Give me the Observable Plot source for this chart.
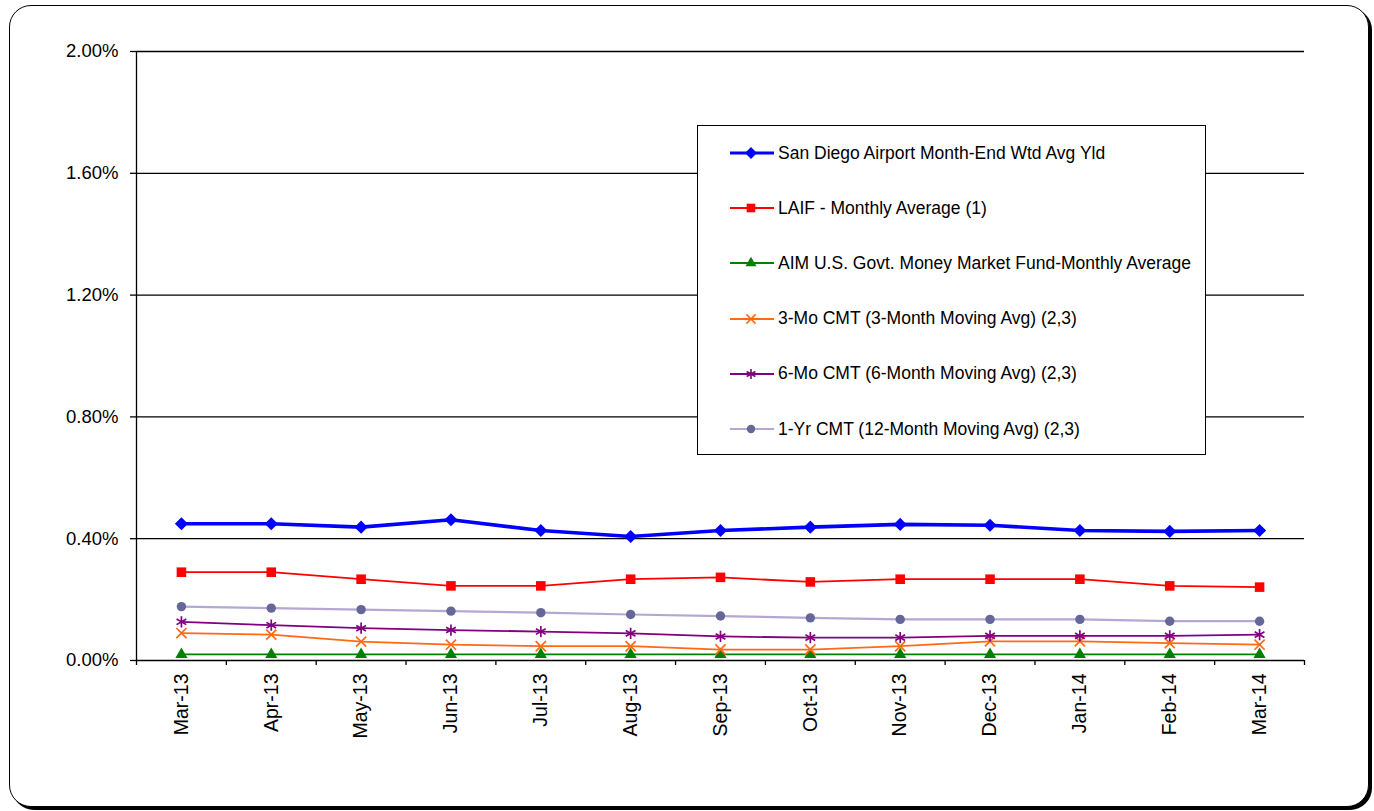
<!DOCTYPE html>
<html>
<head>
<meta charset="utf-8">
<script src="https://cdn.jsdelivr.net/npm/d3@7"></script>
<script src="https://cdn.jsdelivr.net/npm/@observablehq/plot@0.6"></script>
<style>
  body { margin: 0; background: #fff; font-family: "Liberation Sans", Arial, sans-serif; }
  #wrap { position: relative; width: 1374px; height: 811px; overflow: hidden; background: #fff; }
  #frame { position: absolute; left: 9px; top: 5px; width: 1360px; height: 802px; box-sizing: border-box;
           border: 1.5px solid #000; border-radius: 22px; box-shadow: 3px 3px 0 0 #000; background: #fff; }
  #chart { position: absolute; left: 0; top: 0; }
  #legend { position: absolute; left: 697px; top: 125px; width: 509px; height: 330px; box-sizing: border-box;
            border: 1.5px solid #000; background: #fff; }
  .item { position: absolute; left: 30px; height: 22px; display: flex; align-items: center;
          font-size: 17.5px; color: #000; white-space: nowrap; }
  .item svg { margin-right: 4px; }
</style>
</head>
<body>
<div id="wrap">
  <div id="frame"></div>
  <div id="chart"></div>
  <div id="legend"></div>
</div>
<script>
// Month-end labels, Mar-13 .. Mar-14
const months = ["Mar-13", "Apr-13", "May-13", "Jun-13", "Jul-13", "Aug-13", "Sep-13",
                "Oct-13", "Nov-13", "Dec-13", "Jan-14", "Feb-14", "Mar-14"];

// Yields in percent
const sanDiegoYield = [0.449, 0.449, 0.438, 0.462, 0.427, 0.407, 0.427, 0.438, 0.447, 0.444, 0.427, 0.424, 0.427];
const laifAvg       = [0.290, 0.290, 0.267, 0.245, 0.245, 0.267, 0.273, 0.258, 0.267, 0.267, 0.267, 0.245, 0.241];
const aimMoneyMkt   = [0.020, 0.020, 0.020, 0.020, 0.020, 0.020, 0.020, 0.020, 0.020, 0.020, 0.020, 0.020, 0.020];
const cmt3Mo        = [0.090, 0.085, 0.062, 0.052, 0.047, 0.047, 0.036, 0.036, 0.047, 0.063, 0.063, 0.057, 0.052];
const cmt6Mo        = [0.127, 0.116, 0.106, 0.100, 0.095, 0.089, 0.079, 0.075, 0.075, 0.081, 0.081, 0.081, 0.085];
const cmt1Yr        = [0.177, 0.172, 0.167, 0.162, 0.157, 0.151, 0.146, 0.140, 0.135, 0.135, 0.135, 0.129, 0.129];

const yTicks = [0, 0.4, 0.8, 1.2, 1.6, 2.0];

const seriesNames = [
  "San Diego Airport Month-End Wtd Avg Yld",
  "LAIF - Monthly Average (1)",
  "AIM U.S. Govt. Money Market Fund-Monthly Average",
  "3-Mo CMT (3-Month Moving Avg) (2,3)",
  "6-Mo CMT (6-Month Moving Avg) (2,3)",
  "1-Yr CMT (12-Month Moving Avg) (2,3)"
];
const seriesValues = [sanDiegoYield, laifAvg, aimMoneyMkt, cmt3Mo, cmt6Mo, cmt1Yr];

// Drawing style per series (same order as the names above)
const styles = [
  {line: "#0000ff", mark: "#0000ff", symbol: "diamond2", r: 5.9, width: 3.6, filled: true},
  {line: "#ff0000", mark: "#ff0000", symbol: "square",   r: 5.4, width: 1.8, filled: true},
  {line: "#008000", mark: "#008000", symbol: "triangle", r: 4.5, width: 1.8, filled: true},
  {line: "#ff6a13", mark: "#ff6a13", symbol: "times",    r: 4.7, width: 1.8, filled: false},
  {line: "#800080", mark: "#800080", symbol: "asterisk", r: 5.3, width: 1.8, filled: false},
  {line: "#b4a8d2", mark: "#666699", symbol: "circle",   r: 4.7, width: 2.2, filled: true}
];

const symbolMap = {
  diamond2: d3.symbolDiamond2, square: d3.symbolSquare, triangle: d3.symbolTriangle,
  times: d3.symbolTimes, asterisk: d3.symbolAsterisk, circle: d3.symbolCircle
};

const idx = d3.range(months.length);
const table = seriesNames.map((name, s) =>
  idx.map(i => ({series: name, i, month: months[i], value: seriesValues[s][i]}))
);

const seriesMarks = table.flatMap((rows, s) => {
  const st = styles[s];
  return [
    Plot.line(rows, {x: "i", y: "value", stroke: st.line, strokeWidth: st.width}),
    Plot.dot(rows, {
      x: "i", y: "value", symbol: st.symbol, r: st.r,
      fill: st.filled ? st.mark : "none",
      stroke: st.filled ? "none" : st.mark,
      strokeWidth: st.filled ? 0 : 1.7
    })
  ];
});

const boundaries = d3.range(months.length + 1).map(i => i - 0.5);

const chart = Plot.plot({
  width: 1374,
  height: 811,
  marginLeft: 136,
  marginRight: 70,
  marginTop: 51,
  marginBottom: 151,
  style: {fontFamily: "'Liberation Sans', Arial, sans-serif", color: "#000", background: "transparent", overflow: "visible"},
  x: {type: "linear", domain: [-0.5, months.length - 0.5]},
  y: {domain: [0, 2]},
  marks: [
    Plot.ruleY(yTicks, {stroke: "#000", strokeWidth: 1.3}),
    Plot.ruleX([-0.5], {stroke: "#000", strokeWidth: 1.3}),
    Plot.axisY({ticks: yTicks, tickSize: 6, tickPadding: 12, tickFormat: d => d.toFixed(2) + "%",
                fontSize: 18.5, label: null, stroke: "#000", strokeWidth: 1.3}),
    Plot.axisX({ticks: boundaries, tickSize: 5, tickFormat: () => "", label: null, stroke: "#000", strokeWidth: 1.3}),
    Plot.axisX({ticks: idx, tickSize: 0, tickPadding: 13, tickRotate: -90, tickFormat: i => months[i],
                fontSize: 19.5, label: null}),
    ...seriesMarks
  ]
});
document.getElementById("chart").appendChild(chart);

// Legend
const legend = d3.select("#legend");
seriesNames.forEach((name, s) => {
  const st = styles[s];
  const item = legend.append("div").attr("class", "item").style("top", (16 + s * 55.2) + "px");
  const sw = item.append("svg").attr("width", 46).attr("height", 22);
  sw.append("line").attr("x1", 2).attr("x2", 46).attr("y1", 11).attr("y2", 11)
    .attr("stroke", st.line).attr("stroke-width", s === 0 ? 3 : 1.8);
  const size = Math.PI * (st.r * 0.9) ** 2;
  sw.append("path").attr("transform", "translate(23,11)")
    .attr("d", d3.symbol(symbolMap[st.symbol], size)())
    .attr("fill", st.filled ? st.mark : "none")
    .attr("stroke", st.filled ? "none" : st.mark)
    .attr("stroke-width", 1.6);
  item.append("span").text(name);
});
</script>
</body>
</html>
